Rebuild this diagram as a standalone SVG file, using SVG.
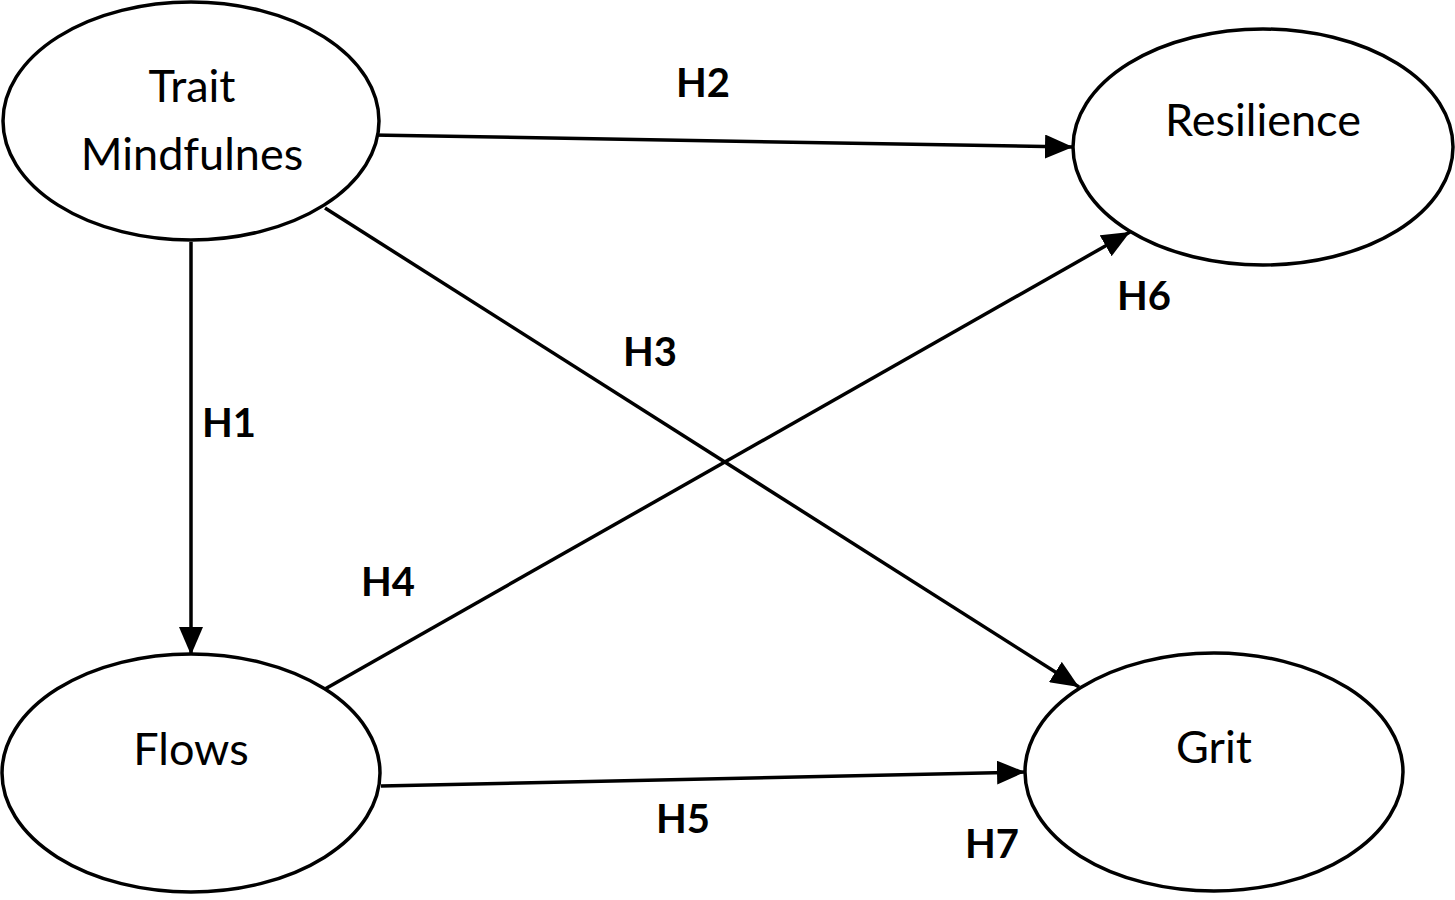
<svg xmlns="http://www.w3.org/2000/svg" width="1455" height="900" viewBox="0 0 1455 900">
<style>
.node{fill:#fff;stroke:#000;stroke-width:3.5}
.nt{font-family:Lato,"Open Sans",sans-serif;font-size:45px;fill:#000;text-anchor:middle}
.lb{font-family:Lato,"Open Sans",sans-serif;font-size:40px;font-weight:bold;fill:#000;text-anchor:middle}
.ed{stroke:#000;stroke-width:3.5;fill:none;marker-end:url(#ah)}
</style>
<defs>
<marker id="ah" markerUnits="userSpaceOnUse" markerWidth="28" markerHeight="24" viewBox="0 0 28 24" refX="28" refY="12" orient="auto">
<path d="M0,0 L28,12 L0,24 Z" fill="#000"/>
</marker>
</defs>
<rect width="1455" height="900" fill="#fff"/>
<g id="connectors">
<line class="ed" x1="372" y1="135" x2="1073" y2="147"/>
<line class="ed" x1="191" y1="242" x2="191" y2="655"/>
<line class="ed" x1="325" y1="208" x2="1079" y2="687"/>
<line class="ed" x1="325" y1="689" x2="1130" y2="232"/>
<line class="ed" x1="381" y1="786" x2="1025" y2="772"/>
</g>
<g id="node-trait">
<ellipse class="node" cx="191" cy="121" rx="188" ry="119"/>
<text class="nt" x="192" y="102">Trait</text>
<text class="nt" x="192" y="170">Mindfulnes</text>
</g>
<g id="node-resilience">
<ellipse class="node" cx="1263" cy="147" rx="190" ry="118"/>
<text class="nt" x="1263" y="136">Resilience</text>
</g>
<g id="node-flows">
<ellipse class="node" cx="191" cy="773" rx="189" ry="119"/>
<text class="nt" x="191" y="765">Flows</text>
</g>
<g id="node-grit">
<ellipse class="node" cx="1214" cy="772" rx="189" ry="119"/>
<text class="nt" x="1214" y="763">Grit</text>
</g>
<g id="labels">
<text class="lb" x="703" y="97">H2</text>
<text class="lb" x="1144" y="310">H6</text>
<text class="lb" x="650" y="366">H3</text>
<text class="lb" x="229" y="437">H1</text>
<text class="lb" x="388" y="596">H4</text>
<text class="lb" x="683" y="833">H5</text>
<text class="lb" x="992" y="858">H7</text>
</g>
</svg>
